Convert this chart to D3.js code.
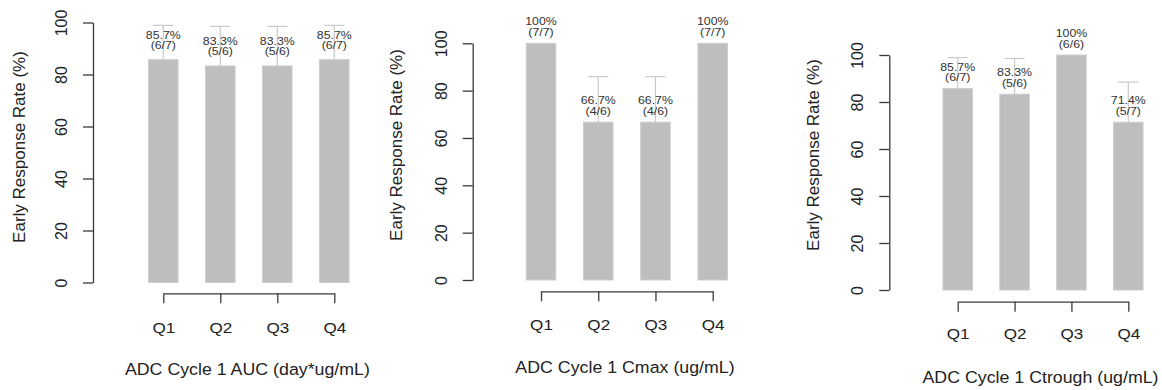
<!DOCTYPE html>
<html>
<head>
<meta charset="utf-8">
<script src="https://cdn.jsdelivr.net/npm/d3@7"></script>
<style>
  html, body { margin: 0; padding: 0; background: #fff; }
  svg { display: block; }
  text { font-family: "Liberation Sans", Arial, Helvetica, sans-serif; fill: #222; }
</style>
</head>
<body>
<svg id="chart" width="1162" height="390"></svg>
<script>
// Quartile categories shared by all three panels
const categories = ["Q1", "Q2", "Q3", "Q4"];
const yTicks = [0, 20, 40, 60, 80, 100];
const yTitle = "Early Response Rate (%)";

// AUC quartiles
const aucTitle = "ADC Cycle 1 AUC (day*ug/mL)";
const aucRate = [85.7, 83.3, 83.3, 85.7];
const aucCounts = ["6/7", "5/6", "5/6", "6/7"];
const aucUpper = [98.9, 98.5, 98.5, 98.9];

// Cmax quartiles
const cmaxTitle = "ADC Cycle 1 Cmax (ug/mL)";
const cmaxRate = [100, 66.7, 66.7, 100];
const cmaxCounts = ["7/7", "4/6", "4/6", "7/7"];
const cmaxUpper = [100, 85.9, 85.9, 100];

// Ctrough quartiles
const ctroughTitle = "ADC Cycle 1 Ctrough (ug/mL)";
const ctroughRate = [85.7, 83.3, 100, 71.4];
const ctroughCounts = ["6/7", "5/6", "6/6", "5/7"];
const ctroughUpper = [98.9, 98.5, 100, 88.5];

// Panel geometry (pixels)
const panels = [
  { title: aucTitle, rate: aucRate, counts: aucCounts, upper: aucUpper,
    axisX: 93, y0: 282.5, y100: 22.5, tickLabelX: 61.5, yTitleX: 19.5, yTitleY: 147,
    xFirst: 163.3, xLast: 334.3, xAxisY: 293.3, qLabelY: 327.7,
    titleX: 247.4, titleY: 370, labelGap: 10.5 },
  { title: cmaxTitle, rate: cmaxRate, counts: cmaxCounts, upper: cmaxUpper,
    axisX: 472.7, y0: 280, y100: 43.3, tickLabelX: 441, yTitleX: 396.7, yTitleY: 145,
    xFirst: 541, xLast: 712.7, xAxisY: 291.3, qLabelY: 324,
    titleX: 625, titleY: 368.3, labelGap: 7.5 },
  { title: ctroughTitle, rate: ctroughRate, counts: ctroughCounts, upper: ctroughUpper,
    axisX: 889.3, y0: 290, y100: 55, tickLabelX: 857.3, yTitleX: 813.3, yTitleY: 155,
    xFirst: 957.7, xLast: 1128.3, xAxisY: 301.7, qLabelY: 333.3,
    titleX: 1040.5, titleY: 378.3, labelGap: 7.5 }
];

const style = {
  barFill: "#bebebe", barStroke: "#cdcdcd", barWidth: 29.5,
  errColor: "#c9c9c9", capWidth: 20,
  axisColor: "#3a3a3a", tickLen: 10,
  sx: 1.14,
  barLabelSize: 10.8, barLabelLine: 10.6,
  qLabelSize: 15, titleSize: 15.6, tickLabelSize: 16, yTitleSize: 17
};

const svg = d3.select("#chart");

// Horizontal text, slightly widened
function hText(g, str, x, y, size) {
  return g.append("text")
    .attr("transform", `translate(${x},${y}) scale(${style.sx},1)`)
    .attr("text-anchor", "middle")
    .attr("dominant-baseline", "central")
    .style("font-size", size + "px")
    .text(str);
}

panels.forEach(p => {
  const g = svg.append("g");

  const y = d3.scaleLinear().domain([0, 100]).range([p.y0, p.y100]);
  const x = d3.scalePoint().domain(categories).range([p.xFirst, p.xLast]);

  const rows = categories.map((c, i) => ({
    cat: c, rate: p.rate[i], count: p.counts[i], upper: p.upper[i]
  }));

  // Error bars (drawn first so the bars sit on top of their lower ends)
  const err = g.append("g").attr("stroke", style.errColor).attr("stroke-width", 1.2).attr("fill", "none");
  rows.filter(d => d.upper > d.rate).forEach(d => {
    const cx = x(d.cat);
    err.append("line").attr("x1", cx).attr("x2", cx).attr("y1", y(d.rate)).attr("y2", y(d.upper));
    err.append("line").attr("x1", cx - style.capWidth / 2).attr("x2", cx + style.capWidth / 2)
      .attr("y1", y(d.upper)).attr("y2", y(d.upper));
  });

  // Bars
  g.append("g").selectAll("rect").data(rows).join("rect")
    .attr("x", d => x(d.cat) - style.barWidth / 2)
    .attr("width", style.barWidth)
    .attr("y", d => y(d.rate))
    .attr("height", d => y(0) - y(d.rate))
    .attr("fill", style.barFill)
    .attr("stroke", style.barStroke)
    .attr("stroke-width", 1);

  // Value labels: percentage over responder count
  rows.forEach(d => {
    const base = y(d.rate) - p.labelGap;
    const t1 = hText(g, d.rate + "%", x(d.cat), base - style.barLabelLine, style.barLabelSize)
      .attr("dominant-baseline", "auto").style("fill", "#333");
    const t2 = hText(g, "(" + d.count + ")", x(d.cat), base, style.barLabelSize)
      .attr("dominant-baseline", "auto").style("fill", "#333");
  });

  // Y axis
  const yAxis = g.append("g")
    .attr("transform", `translate(${p.axisX},0)`)
    .call(d3.axisLeft(y).tickValues(yTicks).tickSize(style.tickLen).tickSizeOuter(0).tickFormat(d3.format("d")));
  yAxis.selectAll("path, line").attr("stroke", style.axisColor).attr("stroke-width", 1.3);
  yAxis.selectAll("text")
    .attr("x", 0).attr("y", 0).attr("dy", null)
    .attr("transform", `translate(${p.tickLabelX - p.axisX},0) scale(1.08,1) rotate(-90)`)
    .attr("text-anchor", "middle")
    .attr("dominant-baseline", "central")
    .attr("fill", "#222")
    .style("font-size", style.tickLabelSize + "px")
    .style("font-family", "\"Liberation Sans\", Arial, sans-serif");

  // X axis
  const xAxis = g.append("g")
    .attr("transform", `translate(0,${p.xAxisY})`)
    .call(d3.axisBottom(x).tickSize(style.tickLen).tickSizeOuter(0));
  xAxis.selectAll("path, line").attr("stroke", style.axisColor).attr("stroke-width", 1.3);
  xAxis.selectAll("text")
    .attr("x", 0).attr("y", 0).attr("dy", null)
    .attr("transform", `translate(0,${p.qLabelY - p.xAxisY}) scale(${style.sx},1)`)
    .attr("text-anchor", "middle")
    .attr("dominant-baseline", "central")
    .attr("fill", "#222")
    .style("font-size", style.qLabelSize + "px")
    .style("font-family", "\"Liberation Sans\", Arial, sans-serif");

  // Axis titles
  hText(g, p.title, p.titleX, p.titleY, style.titleSize);
  g.append("text")
    .attr("transform", `translate(${p.yTitleX},${p.yTitleY}) rotate(-90)`)
    .attr("text-anchor", "middle")
    .attr("dominant-baseline", "central")
    .style("font-size", style.yTitleSize + "px")
    .text(yTitle);
});
</script>
</body>
</html>
